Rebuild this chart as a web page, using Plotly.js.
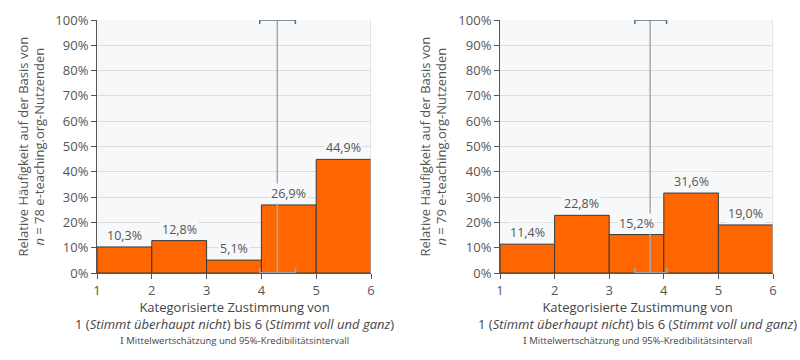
<!DOCTYPE html>
<html>
<head>
<meta charset="utf-8">
<script src="https://cdn.plot.ly/plotly-3.0.1.min.js"></script>
<style>html,body{margin:0;padding:0;background:#fff;}#chart{width:800px;height:360px;}</style>
</head>
<body>
<div id="chart"></div>
<script>
// Data
const categoryEdges = [1, 2, 3, 4, 5, 6];
const binCenters = [1.5, 2.5, 3.5, 4.5, 5.5];
const valuesLeft = [10.3, 12.8, 5.1, 26.9, 44.9];
const valuesRight = [11.4, 22.8, 15.2, 31.6, 19.0];
const nLeft = 78;
const nRight = 79;
const meanLeft = 4.29, ciLeft = [3.97, 4.62];
const meanRight = 3.75, ciRight = [3.47, 4.05];
const yTickVals = [0, 10, 20, 30, 40, 50, 60, 70, 80, 90, 100];
const yTickText = ['0%', '10%', '20%', '30%', '40%', '50%', '60%', '70%', '80%', '90%', '100%'];

const orange = '#ff6600';
const textCol = '#555555';
const plotBg = '#f6f8fa';
const font = 'Open Sans, sans-serif';

function fmt(v) { return v.toFixed(1).replace('.', ',') + '%'; }

function panelTraces(vals, mean, ci, xa, ya) {
  return [
    { type: 'bar', x: binCenters, y: vals, width: 1, xaxis: xa, yaxis: ya,
      marker: { color: orange, line: { color: '#3a3a3a', width: 1 } },
      hoverinfo: 'skip', showlegend: false },
    { type: 'scatter', mode: 'lines', x: [mean, mean], y: [0, 100], xaxis: xa, yaxis: ya,
      line: { color: '#a8a8a8', width: 1.5 }, hoverinfo: 'skip', showlegend: false },
    { type: 'scatter', mode: 'markers', x: [mean], y: [100], xaxis: xa, yaxis: ya,
      marker: { size: 1, color: 'rgba(0,0,0,0)' },
      error_x: { type: 'data', symmetric: false, array: [ci[1] - mean], arrayminus: [mean - ci[0]],
                 color: '#5f6e7c', thickness: 1.5, width: 4 },
      hoverinfo: 'skip', showlegend: false },
    { type: 'scatter', mode: 'markers', x: [mean], y: [0], xaxis: xa, yaxis: ya, cliponaxis: false,
      marker: { size: 1, color: 'rgba(0,0,0,0)' },
      error_x: { type: 'data', symmetric: false, array: [ci[1] - mean], arrayminus: [mean - ci[0]],
                 color: '#a0a0a0', thickness: 2, width: 5 },
      hoverinfo: 'skip', showlegend: false }
  ];
}

const data = [].concat(
  panelTraces(valuesLeft, meanLeft, ciLeft, 'x', 'y'),
  panelTraces(valuesRight, meanRight, ciRight, 'x2', 'y2')
);

function xAxis(domain, anchor) {
  return {
    domain: domain, anchor: anchor, range: [1, 6], tickvals: categoryEdges,
    showgrid: false, zeroline: false, showline: true, linecolor: '#555', linewidth: 1,
    mirror: false, ticks: 'outside', ticklen: 5, tickcolor: '#555',
    tickfont: { family: font, size: 13, color: textCol }, fixedrange: true
  };
}
function yAxis(domain, anchor) {
  return {
    domain: domain, anchor: anchor, range: [0, 100], tickvals: yTickVals, ticktext: yTickText,
    showgrid: true, gridcolor: '#dcdcdc', gridwidth: 1, zeroline: false,
    showline: true, linecolor: '#555', linewidth: 1, ticks: 'outside', ticklen: 5, tickcolor: '#555',
    tickfont: { family: font, size: 13, color: textCol }, fixedrange: true
  };
}

const yDom = [1 - 273 / 360, 1 - 20 / 360];
const annotations = [];
function addLabels(vals, xr, yr) {
  vals.forEach((v, i) => {
    annotations.push({ x: binCenters[i], y: v, xref: xr, yref: yr, text: fmt(v),
      showarrow: false, xanchor: 'center', yanchor: 'bottom', yshift: 1, bgcolor: plotBg, borderpad: 1,
      font: { family: font, size: 12.5, color: textCol } });
  });
}
addLabels(valuesLeft, 'x', 'y');
addLabels(valuesRight, 'x2', 'y2');

function addTitles(n, cx, yTitleX) {
  annotations.push({ xref: 'paper', yref: 'paper', x: cx, y: 1 - 296 / 360, xanchor: 'center', yanchor: 'top',
    showarrow: false, align: 'center',
    text: 'Kategorisierte Zustimmung von<br>1 (<i>Stimmt überhaupt nicht</i>) bis 6 (<i>Stimmt voll und ganz</i>)',
    font: { family: font, size: 13, color: '#444' } });
  annotations.push({ xref: 'paper', yref: 'paper', x: cx, y: 1 - 340 / 360, xanchor: 'center', yanchor: 'middle',
    showarrow: false,
    text: '<span style="font-family:DejaVu Serif">I</span> Mittelwertschätzung und 95%-Kredibilitätsintervall',
    font: { family: font, size: 9.5, color: '#444' } });
  annotations.push({ xref: 'paper', yref: 'paper', x: yTitleX, y: (yDom[0] + yDom[1]) / 2,
    xanchor: 'center', yanchor: 'middle', textangle: -90, showarrow: false, align: 'center',
    text: 'Relative Häufigkeit auf der Basis von<br><i>n</i> = ' + n + ' e-teaching.org-Nutzenden',
    font: { family: font, size: 13, color: textCol } });
}
addTitles(nLeft, 234 / 800, 31 / 800);
addTitles(nRight, 637 / 800, 433 / 800);

const layout = {
  width: 800, height: 360, margin: { l: 0, r: 0, t: 0, b: 0 },
  paper_bgcolor: '#ffffff', plot_bgcolor: plotBg, showlegend: false, bargap: 0,
  xaxis: xAxis([97 / 800, 371 / 800], 'y'),
  yaxis: yAxis(yDom, 'x'),
  xaxis2: xAxis([500 / 800, 773 / 800], 'y2'),
  yaxis2: yAxis(yDom, 'x2'),
  annotations: annotations,
  shapes: [
    { type: 'line', xref: 'x', yref: 'y', x0: 6, x1: 6, y0: 0, y1: 100, line: { color: '#d0d0d0', width: 1 } },
    { type: 'line', xref: 'x2', yref: 'y2', x0: 6, x1: 6, y0: 0, y1: 100, line: { color: '#d0d0d0', width: 1 } }
  ]
};

Plotly.newPlot('chart', data, layout, { displayModeBar: false, staticPlot: true });
</script>
</body>
</html>
